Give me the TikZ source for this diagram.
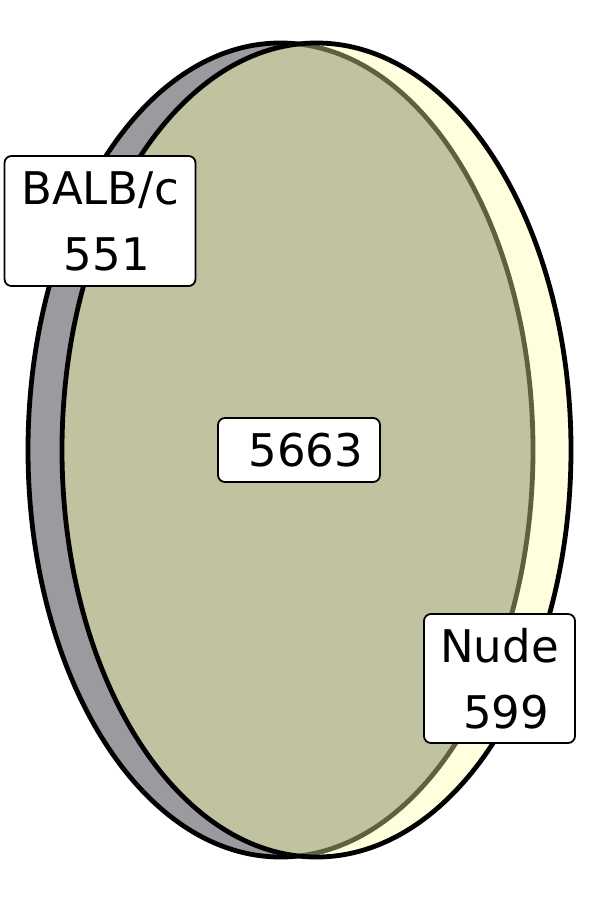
\documentclass[tikz,border=0pt]{standalone}
\usepackage{fontspec}
\setmainfont{DejaVu Sans}
\usetikzlibrary{positioning}
\definecolor{balbgray}{RGB}{155,155,159}
\definecolor{nudeyellow}{RGB}{255,255,221}
\definecolor{overlap}{RGB}{192,194,160}
\definecolor{overlapedge}{RGB}{95,96,64}

\begin{document}
\begin{tikzpicture}[x=1pt, y=-1pt,
  every node/.style={font=\fontsize{45}{66}\selectfont},
  count/.style={draw=black, line width=1.8pt, fill=white, rounded corners=7pt, align=center, inner sep=0pt},
  setedge/.style={line width=4.8pt},
  balbset/.style={x radius=252.5pt, y radius=407pt},
  nudeset/.style={x radius=254.5pt, y radius=407pt}
]
\useasboundingbox (0,0) rectangle (600,900);
\coordinate (balb) at (280.5,450);
\coordinate (nude) at (316.5,450);

% sets
\fill[balbgray] (balb) ellipse [balbset];
\draw[setedge, black] (balb) ellipse [balbset];
\fill[nudeyellow] (nude) ellipse [nudeset];
\begin{scope}
  \clip (nude) ellipse [nudeset];
  \fill[overlap] (balb) ellipse [balbset];
  \draw[setedge, overlapedge] (balb) ellipse [balbset];
\end{scope}
\draw[setedge, black] (nude) ellipse [nudeset];

% counts
\node[count, minimum width=191pt, minimum height=130pt] (balbonly) at (100,221) {BALB/c\\\hspace*{0.3em}551};
\node[count, minimum width=162pt, minimum height=64pt] (both) at (299,450) {\hspace*{0.3em}5663};
\node[count, minimum width=151pt, minimum height=129pt] (nudeonly) at (499.5,678.5) {Nude\\\hspace*{0.3em}599};
\end{tikzpicture}
\end{document}
